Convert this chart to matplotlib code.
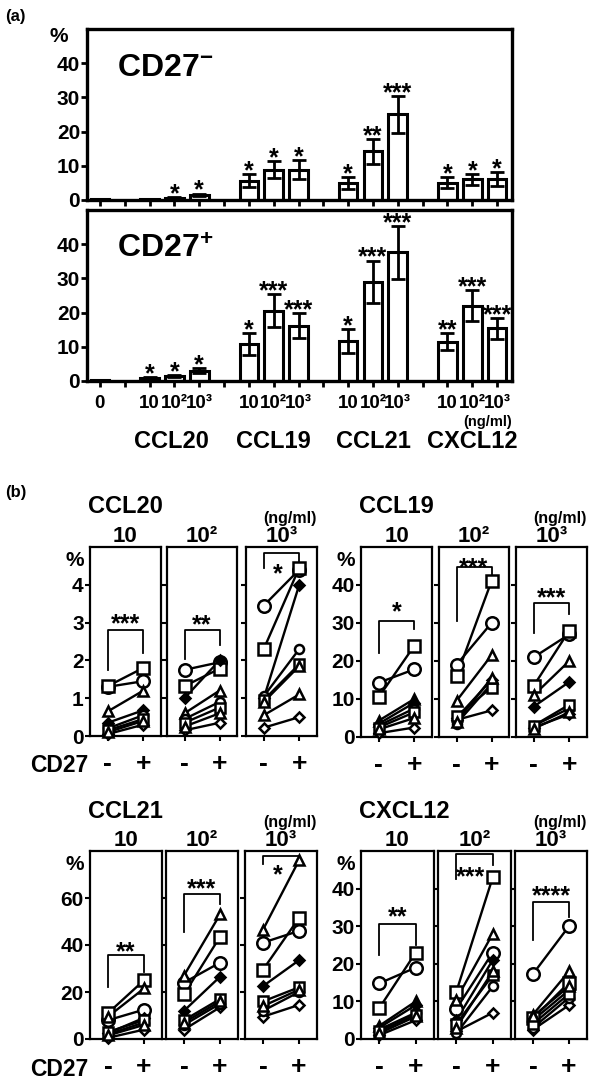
import matplotlib
matplotlib.use("Agg")
import matplotlib.pyplot as plt
from matplotlib.transforms import blended_transform_factory

plt.rcParams['font.family'] = ['Liberation Sans', 'DejaVu Sans']
plt.rcParams['font.weight'] = 'bold'
plt.rcParams['axes.titleweight'] = 'bold'
plt.rcParams['axes.linewidth'] = 1.6
plt.rcParams['mathtext.fontset'] = 'custom'
plt.rcParams['mathtext.rm'] = 'Liberation Sans:bold'
plt.rcParams['mathtext.bf'] = 'Liberation Sans:bold'
plt.rcParams['mathtext.default'] = 'bf'

W, H = 600, 1089

# ---------------------------------------------------------------- panel (a)
bar_pos = [0, 2, 3, 4, 6, 7, 8, 10, 11, 12, 14, 15, 16]
neg_mean = [0.3, 0.3, 0.7, 1.5, 5.7, 8.8, 8.9, 5.0, 14.2, 25.0, 5.0, 6.0, 6.1]
neg_err = [0, 0, 0.2, 0.4, 2.0, 2.5, 2.7, 1.7, 3.7, 5.5, 1.6, 1.7, 2.0]
neg_sig = ['', '', '*', '*', '*', '*', '*', '*', '**', '***', '*', '*', '*']
pos_mean = [0.4, 1.0, 1.4, 3.0, 10.7, 20.5, 16.2, 11.8, 29.0, 37.6, 11.5, 22.0, 15.4]
pos_err = [0, 0.2, 0.3, 0.7, 3.2, 4.8, 3.7, 3.5, 6.2, 7.8, 2.4, 4.6, 3.1]
pos_sig = ['', '*', '*', '*', '*', '***', '***', '*', '***', '***', '**', '***', '***']
dose_labels = ['0', '10', '10²', '10³', '10', '10²', '10³',
               '10', '10²', '10³', '10', '10²', '10³']
groups = ['CCL20', 'CCL19', 'CCL21', 'CXCL12']
group_centre = [2.9, 7, 11, 15]

# ---------------------------------------------------------------- panel (b)
# one row per dose (10, 10^2, 10^3), one value per donor
doses = ['10', '10²', '10³']
ccl20_neg = [[1.3, 1.32, 0.65, 0.35, 0.05, 0.2, 0.15, 0.1],
             [1.75, 1.32, 0.6, 1.0, 0.15, 0.45, 0.35, 0.25],
             [3.45, 2.3, 0.55, 1.0, 0.22, 1.05, 0.95, 0.9]]
ccl20_pos = [[1.45, 1.8, 1.2, 0.68, 0.3, 0.55, 0.45, 0.4],
             [1.95, 1.78, 1.2, 2.0, 0.35, 0.9, 0.75, 0.6],
             [4.4, 4.45, 1.1, 4.0, 0.5, 2.3, 1.9, 1.85]]
ccl19_neg = [[14.3, 10.5, 4.3, 3.5, 1.0, 3.0, 2.5, 2.0],
             [19.0, 16.0, 9.5, 5.0, 4.5, 3.5, 5.5, 4.0],
             [21.0, 13.5, 11.0, 8.0, 2.5, 3.0, 3.0, 2.2]]
ccl19_pos = [[17.8, 24.0, 10.0, 9.0, 2.5, 7.5, 6.5, 5.0],
             [30.0, 41.0, 21.5, 15.0, 7.0, 14.0, 13.0, 15.5],
             [27.0, 28.0, 20.0, 14.5, 6.0, 7.5, 8.5, 6.5]]
ccl21_neg = [[8.0, 11.0, 9.5, 2.5, 0.5, 2.0, 3.0, 1.5],
             [24.0, 19.0, 27.0, 12.0, 4.0, 6.0, 8.0, 7.0],
             [41.0, 29.5, 46.5, 22.5, 9.5, 12.0, 16.0, 14.0]]
ccl21_pos = [[12.5, 25.0, 21.5, 9.0, 4.0, 7.0, 8.0, 6.0],
             [32.5, 43.5, 53.0, 26.5, 13.5, 15.0, 17.0, 16.0],
             [46.0, 51.5, 76.0, 33.5, 14.5, 20.0, 22.0, 21.0]]
cxcl12_neg = [[14.8, 8.2, 3.5, 3.0, 1.0, 2.5, 2.0, 1.5],
              [8.0, 12.5, 10.5, 5.0, 2.0, 1.5, 4.0, 3.0],
              [17.3, 5.5, 6.5, 5.0, 2.5, 3.0, 4.0, 6.0]]
cxcl12_pos = [[19.0, 23.0, 10.0, 9.0, 5.0, 7.0, 6.5, 6.0],
              [23.0, 43.0, 28.0, 21.0, 7.0, 14.0, 17.0, 18.0],
              [30.0, 15.0, 18.0, 13.0, 9.0, 11.0, 12.0, 14.0]]
ccl20_sig = ['***', '**', '*']
ccl19_sig = ['*', '***', '***']
ccl21_sig = ['**', '***', '*']
cxcl12_sig = ['**', '***', '****']

# donor marker styles
d_marker = ['o', 's', '^', 'D', 'D', 'o', 's', '^']
d_fill = ['white', 'white', 'white', 'black', 'white', 'white', 'white', 'white']
d_size = [9, 8.5, 7.5, 5, 5, 6.5, 6.5, 6.5]

fig = plt.figure(figsize=(W / 100, H / 100), dpi=100)


def px_axes(l, t, r, b):
    return fig.add_axes([l / W, 1 - b / H, (r - l) / W, (b - t) / H])


def ftext(x, y, s, **kw):
    fig.text(x / W, 1 - y / H, s, **kw)


# ---- (a) bar charts
ftext(5, 16, '(a)', fontsize=12, va='center')
ax_top = px_axes(87, 29, 512, 200)
ax_bot = px_axes(87, 210, 512, 381)
for ax, mean, err, sig, lab in [(ax_top, neg_mean, neg_err, neg_sig, r'CD27$^{-}$'),
                                (ax_bot, pos_mean, pos_err, pos_sig, r'CD27$^{+}$')]:
    ax.bar(bar_pos, mean, width=0.75, color='white', edgecolor='black',
           linewidth=2.2, zorder=2)
    for x, m, e in zip(bar_pos, mean, err):
        if e > 0:
            ax.errorbar(x, m, yerr=e, fmt='none', ecolor='black',
                        elinewidth=2.0, capsize=5, capthick=2.0, zorder=3)
    for x, m, e, s in zip(bar_pos, mean, err, sig):
        if s:
            ax.annotate(s, (x, m + e), xytext=(0, -3), textcoords='offset points',
                        ha='center', va='baseline', fontsize=18)
    ax.set_xlim(-0.52, 16.6)
    ax.set_ylim(0, 50)
    ax.set_yticks([0, 10, 20, 30, 40])
    ax.set_xticks(range(17))
    ax.set_xticklabels([])
    for sp in ax.spines.values():
        sp.set_linewidth(2.4)
    ax.tick_params(direction='out', length=4, width=2, labelsize=15, pad=1)
    ax.text(0.07, 0.77, lab, transform=ax.transAxes, fontsize=23,
            ha='left', va='center')

ax_top.text(-0.045, 0.955, '%', transform=ax_top.transAxes, fontsize=15,
            ha='right', va='center')
ax_bot.set_xticks(bar_pos, labels=dose_labels, fontsize=13.5)
ax_bot.set_xticks([1, 5, 9, 13], minor=True)
ax_bot.tick_params(axis='x', which='minor', direction='out', length=4, width=2)
ax_top.set_xticks([1, 5, 9, 13], minor=True)
ax_top.tick_params(axis='x', which='minor', direction='out', length=4, width=2)
ax_bot.tick_params(axis='x', pad=6)
tr = blended_transform_factory(ax_bot.transData, fig.transFigure)
for g, c in zip(groups, group_centre):
    ax_bot.text(c, 1 - 442 / H, g, transform=tr, fontsize=17,
                ha='center', va='center')
ftext(512, 422, '(ng/ml)', fontsize=10.5, ha='right', va='center')

# ---- (b) paired plots
ftext(5, 492, '(b)', fontsize=12, va='center')

panel_b = [
    ('CCL20', ccl20_neg, ccl20_pos, ccl20_sig, 5, [0, 1, 2, 3, 4],
     [(90, 161), (167, 237), (246, 317)], 547, 736, True),
    ('CCL19', ccl19_neg, ccl19_pos, ccl19_sig, 50, [0, 10, 20, 30, 40],
     [(361, 432), (439, 509), (516, 587)], 547, 737, False),
    ('CCL21', ccl21_neg, ccl21_pos, ccl21_sig, 80, [0, 20, 40, 60],
     [(90, 162), (166, 238), (245, 317)], 851, 1039, True),
    ('CXCL12', cxcl12_neg, cxcl12_pos, cxcl12_sig, 50, [0, 10, 20, 30, 40],
     [(361, 434), (438, 511), (515, 587)], 851, 1039, False),
]

# bracket geometry as fraction of y range: (left leg end, bar, right leg end, star centre)
brackets = {
    'CCL20': [(0.35, 0.56, 0.44, 0.63), (0.41, 0.56, 0.48, 0.62), (0.89, 0.97, 0.92, 0.89)],
    'CCL19': [(0.444, 0.61, 0.566, 0.69), (0.61, 0.896, 0.83, 0.926), (0.548, 0.706, 0.646, 0.768)],
    'CCL21': [(0.279, 0.446, 0.359, 0.50), (0.57, 0.769, 0.72, 0.835), (0.93, 0.975, 0.95, 0.905)],
    'CXCL12': [(0.446, 0.614, 0.50, 0.686), (0.852, 0.986, 0.924, 0.898), (0.526, 0.73, 0.65, 0.796)],
}

for name, neg, pos, sig, ytop, yt, cols, top, bot, first_col in panel_b:
    for k, (l, r) in enumerate(cols):
        ax = px_axes(l, top, r, bot)
        for i in range(len(neg[k])):
            ax.plot([0, 1], [neg[k][i], pos[k][i]], color='black', lw=1.7,
                    zorder=2, clip_on=False)
            ax.plot([0, 1], [neg[k][i], pos[k][i]], ls='none', marker=d_marker[i],
                    ms=d_size[i], mfc=d_fill[i], mec='black', mew=1.8,
                    zorder=3, clip_on=False)
        b1, b2, b3, sy = brackets[name][k]
        ax.plot([0, 0, 1, 1], [b1 * ytop, b2 * ytop, b2 * ytop, b3 * ytop],
                color='black', lw=1.3, zorder=1)
        ax.annotate(sig[k], (0.5 if sy > b2 else 0.4, sy * ytop),
                    xytext=(0, -10), textcoords='offset points',
                    ha='center', va='baseline', fontsize=18)
        ax.set_xlim(-0.5, 1.5)
        ax.set_ylim(0, ytop)
        ax.set_yticks(yt)
        ax.set_xticks([0, 1], labels=['-', '+'], fontsize=19)
        ax.tick_params(direction='out', length=3.5, width=1.5, labelsize=15, pad=1)
        ax.tick_params(axis='x', pad=8, labelsize=19)
        if k > 0:
            ax.set_yticklabels([])
        else:
            ax.text(-0.08, 0.93, '%', transform=ax.transAxes, fontsize=15,
                    ha='right', va='center')
        ax.set_title(doses[k], fontsize=16, pad=-1)
    ftext(cols[0][0] - 2, top - 40, name, fontsize=17, ha='left', va='center')
    ftext(cols[2][1], top - 29, '(ng/ml)', fontsize=11.5, ha='right', va='center')
    if first_col:
        ftext(cols[0][0] - 2, bot + 30, 'CD27', fontsize=16.5, ha='right', va='center')

fig.savefig('out.png', dpi=100)
